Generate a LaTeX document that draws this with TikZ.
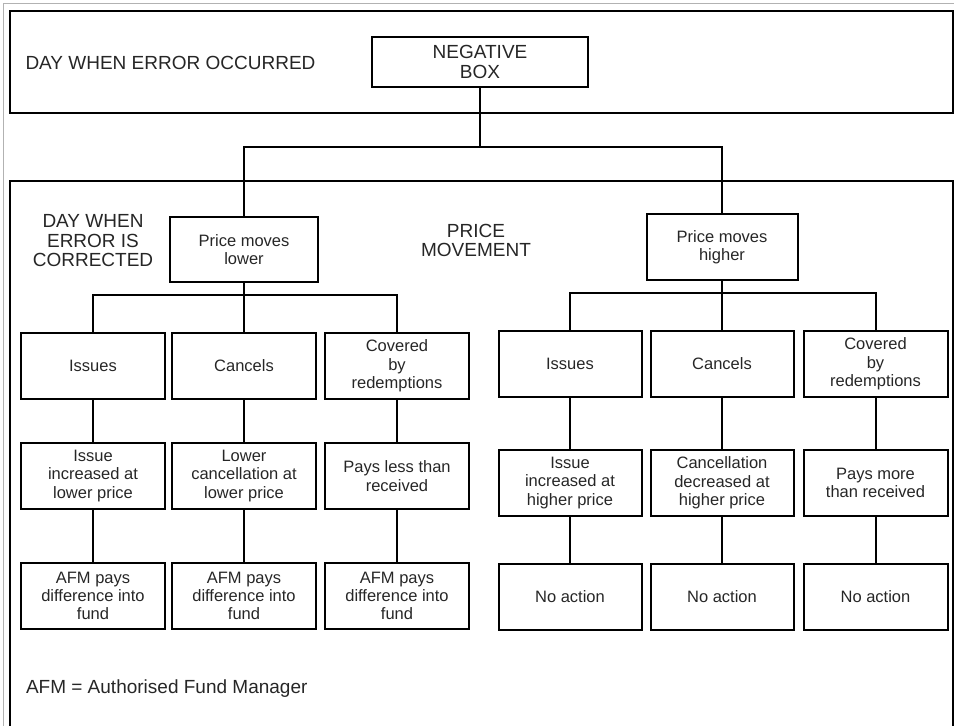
\documentclass[tikz,border=0pt]{standalone}
\usepackage{fontspec}
\setmainfont{Liberation Sans}
\usepackage{tikz}
\usetikzlibrary{positioning}

% font sizes used in the chart
\newcommand{\boxfont}{\fontsize{16.5}{18.3}\selectfont}
\newcommand{\capsfont}{\fontsize{19}{19.5}\selectfont}

\tikzset{
    chartbox/.style={draw, line width=2pt, minimum width=144pt, minimum height=66pt,
        inner sep=0pt, outer sep=0pt, align=center, font=\boxfont, text=black!85},
    chartline/.style={line width=2pt},
    caption/.style={inner sep=0pt, outer sep=0pt, align=center, font=\capsfont, text=black!85}
}

\begin{document}
\begin{tikzpicture}[x=1pt, y=-1pt]
        \useasboundingbox (0,0) rectangle (954,726);

        %%% Frames
            % Thin grey outer border (top and left side only)
            \draw[gray!60, line width=1pt] (3.5,726) -- (3.5,3.5) -- (954,3.5);

            % Upper band
            \draw[chartline] (10,11) rectangle (953,113);

            % Lower band, open at the bottom
            \draw[chartline] (10,726) -- (10,181) -- (953,181) -- (953,726);

        %%% Labels of the bands
            \node[caption, anchor=west] (dayOccurred) at (25.5,62.7) {DAY WHEN ERROR OCCURRED};
            \node[caption] (dayCorrected) at (93,241) {DAY WHEN\\ERROR IS\\CORRECTED};
            \node[caption] (priceMove) at (476,240.5) {PRICE\\MOVEMENT};
            \node[caption, anchor=west] (afmNote) at (26,688.3) {AFM = Authorised Fund Manager};

        %%% Root
            % Negative box sitting in the upper band
            \node[chartbox, minimum width=216pt, minimum height=50pt, font=\capsfont] (negBox) at (480,62) {NEGATIVE\\BOX};

            % Split point between the two bands
            \coordinate (splitTop) at (480,147);

        %%% Price moves lower
            \node[chartbox, minimum width=148pt, minimum height=65pt] (lowerBox) at (244,249.5) {Price moves\\lower};

            % Second row
            \node[chartbox] (lIssues) at (93,366) {Issues};
            \node[chartbox, right=7pt of lIssues] (lCancels) {Cancels};
            \node[chartbox, right=9pt of lCancels] (lCovered) {Covered\\by\\redemptions};

            % Third row
            \node[chartbox, below=44pt of lIssues] (lIssueUp) {Issue\\increased at\\lower price};
            \node[chartbox, below=44pt of lCancels] (lCancelLow) {Lower\\cancellation at\\lower price};
            \node[chartbox, below=44pt of lCovered] (lPaysLess) {Pays less than\\received};

            % Fourth row
            \node[chartbox, below=54pt of lIssueUp] (lPayFund1) {AFM pays\\difference into\\fund};
            \node[chartbox, below=54pt of lCancelLow] (lPayFund2) {AFM pays\\difference into\\fund};
            \node[chartbox, below=54pt of lPaysLess] (lPayFund3) {AFM pays\\difference into\\fund};

        %%% Price moves higher
            \node[chartbox, minimum width=151pt] (higherBox) at (722,247) {Price moves\\higher};

            % Second row
            \node[chartbox, minimum width=143pt] (rIssues) at (570,364) {Issues};
            \node[chartbox, minimum width=143pt, right=9pt of rIssues] (rCancels) {Cancels};
            \node[chartbox, right=10pt of rCancels] (rCovered) {Covered\\by\\redemptions};

            % Third row
            \node[chartbox, minimum width=143pt, below=53pt of rIssues] (rIssueUp) {Issue\\increased at\\higher price};
            \node[chartbox, minimum width=143pt, below=53pt of rCancels] (rCancelDown) {Cancellation\\decreased at\\higher price};
            \node[chartbox, below=53pt of rCovered] (rPaysMore) {Pays more\\than received};

            % Fourth row
            \node[chartbox, minimum width=143pt, below=48pt of rIssueUp] (rNoAction1) {No action};
            \node[chartbox, minimum width=143pt, below=48pt of rCancelDown] (rNoAction2) {No action};
            \node[chartbox, below=48pt of rPaysMore] (rNoAction3) {No action};

        %%% Connectors
            % Root to both price movements
            \draw[chartline] (negBox.south) -- (splitTop);
            \draw[chartline] (lowerBox.north) |- (splitTop) -| (higherBox.north);

            % Price moves lower to its three cases
            \coordinate (splitLeft) at (244,295);
            \draw[chartline] (lowerBox.south) -- (lCancels.north);
            \draw[chartline] (lIssues.north) |- (splitLeft) -| (lCovered.north);

            % Price moves higher to its three cases
            \coordinate (splitRight) at (722,293);
            \draw[chartline] (higherBox.south) -- (rCancels.north);
            \draw[chartline] (rIssues.north) |- (splitRight) -| (rCovered.north);

            % Down the columns
            \draw[chartline] (lIssues) -- (lIssueUp) -- (lPayFund1);
            \draw[chartline] (lCancels) -- (lCancelLow) -- (lPayFund2);
            \draw[chartline] (lCovered) -- (lPaysLess) -- (lPayFund3);
            \draw[chartline] (rIssues) -- (rIssueUp) -- (rNoAction1);
            \draw[chartline] (rCancels) -- (rCancelDown) -- (rNoAction2);
            \draw[chartline] (rCovered) -- (rPaysMore) -- (rNoAction3);
        \end{tikzpicture}
\end{document}
